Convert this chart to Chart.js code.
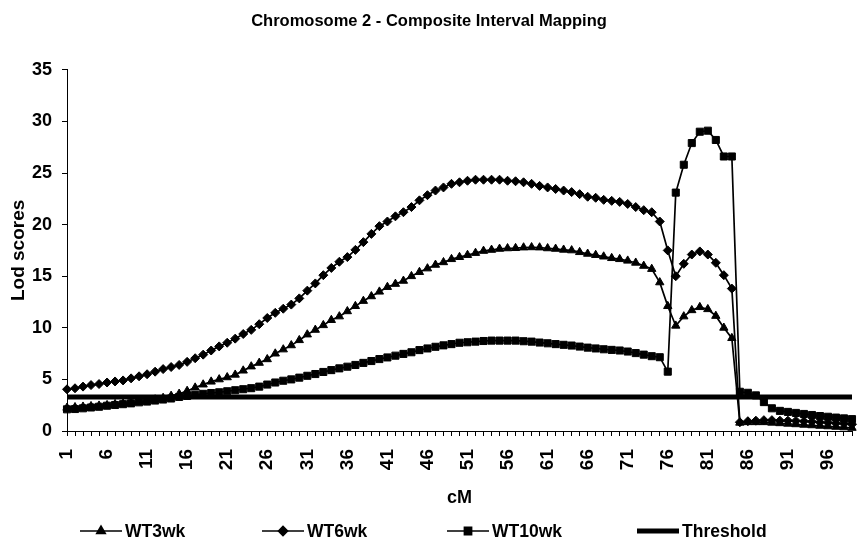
<!DOCTYPE html>
<html>
<head>
<meta charset="utf-8">
<script src="https://cdn.jsdelivr.net/npm/chart.js@4.4.1/dist/chart.umd.min.js"></script>
<style>
  html, body { margin: 0; padding: 0; background: #fff; }
</style>
</head>
<body>
<canvas id="myChart" width="858" height="550"></canvas>
<script>
// cM positions along chromosome 2
var cM = [1, 2, 3, 4, 5, 6, 7, 8, 9, 10, 11, 12, 13, 14, 15, 16, 17, 18, 19, 20,
  21, 22, 23, 24, 25, 26, 27, 28, 29, 30, 31, 32, 33, 34, 35, 36, 37, 38, 39, 40,
  41, 42, 43, 44, 45, 46, 47, 48, 49, 50, 51, 52, 53, 54, 55, 56, 57, 58, 59, 60,
  61, 62, 63, 64, 65, 66, 67, 68, 69, 70, 71, 72, 73, 74, 75, 76, 77, 78, 79, 80,
  81, 82, 83, 84, 85, 86, 87, 88, 89, 90, 91, 92, 93, 94, 95, 96, 97, 98, 99];

var wt3wk = [2.25, 2.3, 2.35, 2.4, 2.45, 2.5, 2.6, 2.65, 2.75, 2.85,
  2.95, 3.05, 3.2, 3.4, 3.6, 3.88, 4.2, 4.5, 4.78, 5.0,
  5.2, 5.45, 5.85, 6.25, 6.6, 6.95, 7.5, 7.9, 8.3, 8.8,
  9.35, 9.8, 10.25, 10.75, 11.1, 11.6, 12.1, 12.6, 13.05, 13.5,
  13.95, 14.25, 14.55, 15.0, 15.4, 15.75, 16.1, 16.35, 16.65, 16.85,
  17.05, 17.25, 17.45, 17.55, 17.65, 17.7, 17.72, 17.78, 17.8, 17.78,
  17.7, 17.65, 17.56, 17.5, 17.33, 17.17, 17.05, 16.9, 16.75, 16.65,
  16.5, 16.3, 16.0, 15.7, 14.4, 12.1, 10.2, 11.1, 11.7, 12.0,
  11.8, 11.15, 10.0, 9.0, 0.8, 0.85, 0.85, 0.85, 0.8, 0.75,
  0.7, 0.65, 0.6, 0.55, 0.5, 0.45, 0.4, 0.35, 0.3];

var wt6wk = [4.04, 4.14, 4.3, 4.45, 4.55, 4.7, 4.8, 4.9, 5.1, 5.3,
  5.5, 5.75, 6.0, 6.2, 6.4, 6.7, 7.05, 7.4, 7.8, 8.2,
  8.55, 8.95, 9.4, 9.8, 10.35, 10.95, 11.45, 11.85, 12.25, 12.85,
  13.6, 14.3, 15.1, 15.8, 16.4, 16.85, 17.55, 18.3, 19.1, 19.85,
  20.3, 20.8, 21.2, 21.7, 22.35, 22.85, 23.3, 23.6, 23.95, 24.1,
  24.25, 24.35, 24.35, 24.35, 24.35, 24.25, 24.2, 24.1, 23.95, 23.75,
  23.6, 23.45, 23.3, 23.15, 22.95, 22.7, 22.6, 22.4, 22.3, 22.2,
  22.0, 21.7, 21.4, 21.2, 20.3, 17.5, 15.0, 16.2, 17.1, 17.4,
  17.1, 16.3, 15.1, 13.8, 0.85, 0.95, 1.0, 1.05, 1.05, 1.0,
  1.0, 0.98, 0.95, 0.9, 0.85, 0.8, 0.75, 0.7, 0.65];

var wt10wk = [2.1, 2.13, 2.2, 2.28, 2.35, 2.45, 2.52, 2.6, 2.68, 2.78,
  2.85, 2.95, 3.05, 3.15, 3.3, 3.4, 3.5, 3.6, 3.68, 3.75,
  3.85, 3.95, 4.05, 4.15, 4.3, 4.5, 4.7, 4.87, 5.0, 5.17,
  5.35, 5.52, 5.72, 5.9, 6.07, 6.23, 6.4, 6.6, 6.78, 6.97,
  7.13, 7.3, 7.47, 7.63, 7.84, 8.0, 8.16, 8.3, 8.42, 8.55,
  8.6, 8.66, 8.72, 8.76, 8.76, 8.76, 8.76, 8.7, 8.66, 8.57,
  8.5, 8.42, 8.35, 8.28, 8.18, 8.08, 8.0, 7.92, 7.86, 7.8,
  7.7, 7.55, 7.4, 7.25, 7.15, 5.75, 23.1, 25.8, 27.9, 29.0,
  29.1, 28.2, 26.6, 26.6, 3.8, 3.7, 3.45, 2.8, 2.2, 1.95,
  1.85, 1.75, 1.65, 1.55, 1.45, 1.38, 1.3, 1.22, 1.15];

var threshold = 3.3;

// legend item left edges (px)
var legendX = [80, 262, 447, 637];

var FONT = '"Liberation Sans", Arial, sans-serif';

var legendPlugin = {
  id: 'bottomLegend',
  afterDraw: function (chart) {
    var ctx = chart.ctx;
    var y = 531;
    ctx.save();
    ctx.font = 'bold 17.5px ' + FONT;
    ctx.textBaseline = 'middle';
    ctx.textAlign = 'left';
    chart.data.datasets.forEach(function (ds, i) {
      var x = legendX[i];
      ctx.strokeStyle = '#000';
      ctx.fillStyle = '#000';
      ctx.lineWidth = ds.borderWidth;
      ctx.beginPath();
      ctx.moveTo(x, y);
      ctx.lineTo(x + 42, y);
      ctx.stroke();
      if (ds.pointRadius > 0) {
        Chart.helpers.drawPoint(ctx, {pointStyle: ds.pointStyle, radius: ds.pointRadius, borderWidth: 1}, x + 21, y);
      }
      ctx.fillText(ds.label, x + 45, y + 1);
    });
    ctx.restore();
  }
};

var ctx = document.getElementById('myChart').getContext('2d');
var myChart = new Chart(ctx, {
  type: 'line',
  data: {
    labels: cM,
    datasets: [{
      label: 'WT3wk',
      data: wt3wk,
      borderColor: '#000',
      backgroundColor: '#000',
      borderWidth: 1.7,
      pointStyle: 'triangle',
      pointRadius: 4.8,
      pointBorderWidth: 1,
      tension: 0
    }, {
      label: 'WT6wk',
      data: wt6wk,
      borderColor: '#000',
      backgroundColor: '#000',
      borderWidth: 1.7,
      pointStyle: 'rectRot',
      pointRadius: 4.5,
      pointBorderWidth: 1,
      tension: 0
    }, {
      label: 'WT10wk',
      data: wt10wk,
      borderColor: '#000',
      backgroundColor: '#000',
      borderWidth: 1.7,
      pointStyle: 'rect',
      pointRadius: 5,
      pointBorderWidth: 1,
      tension: 0
    }, {
      label: 'Threshold',
      data: cM.map(function () { return threshold; }),
      borderColor: '#000',
      backgroundColor: '#000',
      borderWidth: 5,
      pointRadius: 0,
      pointStyle: false,
      tension: 0
    }]
  },
  options: {
    responsive: false,
    animation: false,
    layout: { padding: { left: 0, right: 0, top: 0, bottom: 35 } },
    plugins: {
      legend: { display: false },
      tooltip: { enabled: false },
      title: {
        display: true,
        text: 'Chromosome 2 - Composite Interval Mapping',
        color: '#000',
        font: { family: FONT, size: 16.5, weight: 'bold' },
        padding: { top: 12, bottom: 38 }
      }
    },
    scales: {
      x: {
        type: 'category',
        offset: false,
        afterFit: function (scale) {
          scale.height = 84;
          scale.paddingLeft = 0;
          scale.paddingRight = 0;
        },
        border: { color: '#000', width: 1 },
        grid: { drawOnChartArea: false, color: '#000', tickLength: 5 },
        ticks: {
          autoSkip: false,
          minRotation: 90,
          maxRotation: 90,
          padding: 13,
          color: '#000',
          font: { family: FONT, size: 19, weight: 'bold' },
          callback: function (value, index) {
            return index % 5 === 0 ? this.getLabelForValue(value) : '';
          }
        },
        title: {
          display: true,
          text: 'cM',
          color: '#000',
          font: { family: FONT, size: 18, weight: 'bold' },
          padding: { top: 0, bottom: 6 }
        }
      },
      y: {
        min: 0,
        max: 35,
        afterFit: function (scale) { scale.width = 67; },
        border: { color: '#000', width: 1 },
        grid: { drawOnChartArea: false, color: '#000', tickLength: 5 },
        ticks: {
          stepSize: 5,
          padding: 10,
          color: '#000',
          font: { family: FONT, size: 18, weight: 'bold' }
        },
        title: {
          display: true,
          text: 'Lod scores',
          color: '#000',
          font: { family: FONT, size: 19, weight: 'bold' },
          padding: { top: 7, bottom: 0 }
        }
      }
    }
  },
  plugins: [legendPlugin]
});
</script>
</body>
</html>
